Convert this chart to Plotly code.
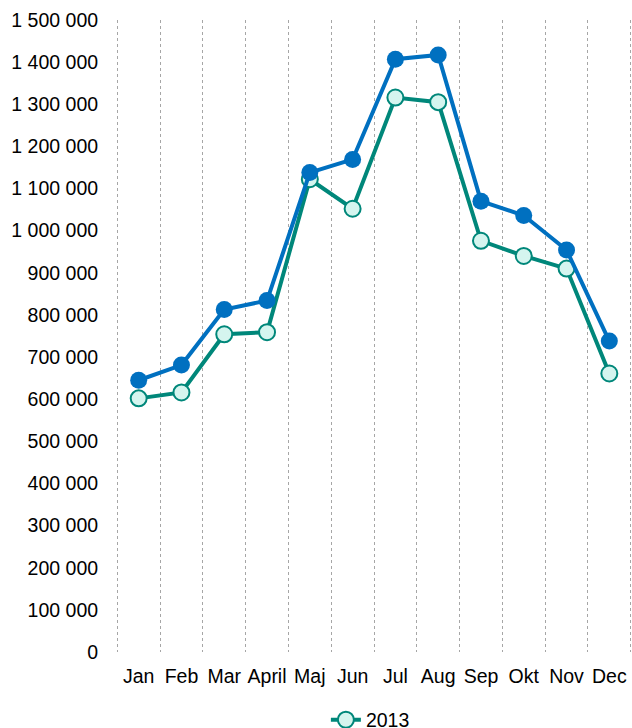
import plotly.graph_objects as go

months = ["Jan", "Feb", "Mar", "April", "Maj", "Jun", "Jul", "Aug", "Sep", "Okt", "Nov", "Dec"]
series_2013 = [602000, 616000, 754000, 759000, 1122000, 1052000, 1316000, 1305000, 976000, 940000, 910000, 661000]
series_2014 = [645000, 681000, 813000, 834000, 1138000, 1169000, 1407000, 1417000, 1070000, 1036000, 954000, 738000]
y_ticks = list(range(0, 1500001, 100000))

FONT = "Liberation Sans, Arial, sans-serif"
GREEN = "#00877A"
BLUE = "#0070C0"

pos = list(range(len(months)))

fig = go.Figure()
fig.add_trace(go.Scatter(
    x=pos, y=series_2013, name="2013", mode="lines+markers",
    line=dict(color=GREEN, width=4),
    marker=dict(size=16, color="#D5F5EF", line=dict(color=GREEN, width=2)),
))
fig.add_trace(go.Scatter(
    x=pos, y=series_2014, name="2014", mode="lines+markers", showlegend=False,
    line=dict(color=BLUE, width=4),
    marker=dict(size=17, color=BLUE, line=dict(color=BLUE, width=0)),
))

fig.update_layout(
    width=632, height=728,
    margin=dict(l=116, r=0, t=20, b=76, autoexpand=False),
    paper_bgcolor="white", plot_bgcolor="white",
    separators=", ",
    font=dict(family=FONT, size=19.5, color="#000000"),
    showlegend=True,
    legend=dict(orientation="h", x=0.493, xanchor="center", y=-0.1076, yanchor="middle",
                font=dict(size=19.5), bgcolor="rgba(0,0,0,0)"),
    xaxis=dict(
        range=[-0.53, len(months) - 0.47],
        tickvals=pos, ticktext=months, showgrid=False,
        minor=dict(tick0=0.5, dtick=1, showgrid=True, gridcolor="#A6A6A6",
                   griddash="dot", gridwidth=1, ticks=""),
        ticks="outside", ticklen=7, tickcolor="rgba(0,0,0,0)",
        showline=False, zeroline=False, tickangle=0, automargin=False,
    ),
    yaxis=dict(
        range=[0, 1500000], tickvals=y_ticks, tickformat=",d",
        showgrid=False, zeroline=False, showline=False, automargin=False,
        ticks="outside", ticklen=13, tickcolor="rgba(0,0,0,0)",
    ),
)

fig.write_html(
    "out.html",
    config={"displayModeBar": False},
    post_script="document.body.style.margin='0';document.body.style.overflow='hidden';",
)
